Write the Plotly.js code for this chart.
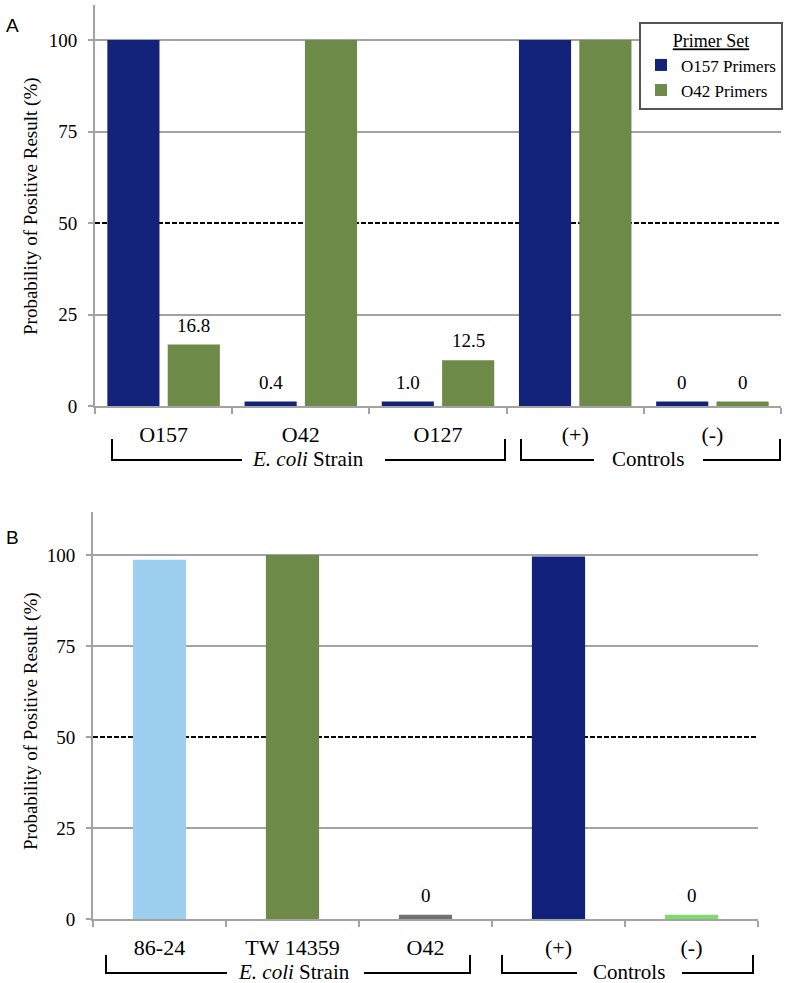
<!DOCTYPE html>
<html><head><meta charset="utf-8">
<script src="https://cdn.plot.ly/plotly-3.0.1.min.js"></script>
<style>html,body{margin:0;padding:0;background:#fff}</style>
</head><body><div id="chart" style="width:800px;height:983px"></div>
<script>
// ---- data ----
const strainsA = ['O157', 'O42', 'O127', '(+)', '(-)'];
const o157Primers = [100, 0.4, 1.0, 100, 0];
const o42Primers = [16.8, 100, 12.5, 100, 0];
const labelsO157 = ['', '0.4', '1.0', '', '0'];
const labelsO42 = ['16.8', '', '12.5', '', '0'];
const seriesNames = ['O157 Primers', 'O42 Primers'];
const strainsB = ['86-24', 'TW 14359', 'O42', '(+)', '(-)'];
const valuesB = [98.7, 100, 0, 99.6, 0];
const labelsB = ['', '', '0', '', '0'];
const yTicks = [0, 25, 50, 75, 100];
const groupNames = ['<i>E. coli</i> Strain', 'Controls'];
const yTitle = 'Probability of Positive Result (%)';

// ---- style ----
const W = 800, H = 983;
const px = x => x / W, py = y => 1 - y / H;
const NAVY = '#13237a', GREEN = '#6e8a48';
const colorsB = ['#9dcfee', '#6e8a48', '#707070', '#12217b', '#82d96c'];
const GRID = '#a3a3a3';
const SERIF = 'Liberation Serif, Times New Roman, serif';
const minVisible = 1.2;               // tiny stub so zero-height bars remain visible
const disp = v => Math.max(v, minVisible);
const BW = 0.38, OFF_A = [-0.41, 0.03], BW_B = 0.40;

const idxA = strainsA.map((_, i) => i);
const idxB = strainsB.map((_, i) => i);

const traces = [
  {type: 'bar', name: seriesNames[0], x: idxA, y: o157Primers.map(disp), width: BW, offset: OFF_A[0],
   marker: {color: NAVY, line: {width: 0}}, xaxis: 'x', yaxis: 'y', hoverinfo: 'skip'},
  {type: 'bar', name: seriesNames[1], x: idxA, y: o42Primers.map(disp), width: BW, offset: OFF_A[1],
   marker: {color: GREEN, line: {width: 0}}, xaxis: 'x', yaxis: 'y', hoverinfo: 'skip'},
  {type: 'bar', name: 'B', showlegend: false, x: idxB, y: valuesB.map(disp), width: BW_B,
   marker: {color: colorsB, line: {width: 0}}, xaxis: 'x2', yaxis: 'y2', hoverinfo: 'skip'}
];

const annotations = [];
function txt(x, y, text, size, extra) {
  return Object.assign({xref: 'paper', yref: 'paper', x: px(x), y: py(y), text: text, showarrow: false,
    xanchor: 'center', yanchor: 'middle', font: {family: SERIF, size: size, color: '#000'}}, extra || {});
}
function valueLabels(labels, vals, xoff, width, xr, yr) {
  labels.forEach((t, i) => {
    if (!t) return;
    annotations.push({xref: xr, yref: yr, x: i + xoff + width / 2, y: disp(vals[i]), text: t,
      showarrow: false, xanchor: 'center', yanchor: 'bottom', yshift: 7,
      font: {family: SERIF, size: 19, color: '#000'}});
  });
}
valueLabels(labelsO157, o157Primers, OFF_A[0], BW, 'x', 'y');
valueLabels(labelsO42, o42Primers, OFF_A[1], BW, 'x', 'y');
valueLabels(labelsB, valuesB, -BW_B / 2, BW_B, 'x2', 'y2');

// axis titles
annotations.push(txt(31, 206, yTitle, 19, {textangle: -90}));
annotations.push(txt(31, 721, yTitle, 19, {textangle: -90}));
// panel letters
const SANS = {family: 'Liberation Sans, Arial, sans-serif', size: 19, color: '#000'};
annotations.push(txt(12, 25, 'A', 19, {font: SANS}));
annotations.push(txt(12, 537, 'B', 19, {font: SANS}));

// group brackets (decorations, pixel layout)
const shapes = [];
function bracket(x1, x2, gap1, gap2, yTop, yBot, label, textX) {
  const path = `M${px(x1)},${py(yTop)} L${px(x1)},${py(yBot)} L${px(gap1)},${py(yBot)} ` +
               `M${px(gap2)},${py(yBot)} L${px(x2)},${py(yBot)} L${px(x2)},${py(yTop)}`;
  shapes.push({type: 'path', xref: 'paper', yref: 'paper', path: path, line: {color: '#000', width: 2}});
  annotations.push(txt(textX, yBot - 1, label, 21));
}
bracket(112, 505, 242, 385, 439, 460, groupNames[0], 308);
bracket(521, 780, 594, 703, 439, 460, groupNames[1], 648);
bracket(106, 470, 227, 364, 955, 973, groupNames[0], 294);
bracket(502, 753, 577, 682, 955, 973, groupNames[1], 629);

// 50% threshold lines
[['x', 'y'], ['x2', 'y2']].forEach(([xr, yr]) => {
  shapes.push({type: 'line', xref: xr, yref: yr, x0: -0.5, x1: 4.5, y0: 50, y1: 50, layer: 'between',
    line: {color: '#fff', width: 3}});
  shapes.push({type: 'line', xref: xr, yref: yr, x0: -0.5, x1: 4.5, y0: 50, y1: 50, layer: 'between',
    line: {color: '#000', width: 2, dash: '5px,2px'}});
});

function xAxis(domain, labels, anchor, standoff) {
  return {domain: domain, anchor: anchor, range: [-0.5, 4.5], tickmode: 'array',
    tickvals: labels.map((_, i) => i), ticktext: labels, ticks: '', showline: true, linecolor: GRID,
    linewidth: 2, showgrid: false, zeroline: false, fixedrange: true, ticklabelstandoff: standoff,
    tickfont: {family: SERIF, size: 22, color: '#000'},
    minor: {tickmode: 'array', tickvals: [-0.5, 0.5, 1.5, 2.5, 3.5, 4.5], ticks: 'outside', ticklen: 6,
      tickwidth: 2, tickcolor: GRID, showgrid: false}};
}
function yAxis(domain, range, anchor) {
  return {domain: domain, anchor: anchor, range: range, tickmode: 'array', tickvals: yTicks,
    ticks: 'outside', ticklen: 5, tickwidth: 2, tickcolor: GRID, showline: true, linecolor: GRID,
    linewidth: 2, showgrid: true, gridcolor: GRID, gridwidth: 2, zeroline: false, fixedrange: true,
    ticklabelstandoff: 7, tickfont: {family: SERIF, size: 19, color: '#000'}};
}

const layout = {
  width: W, height: H, margin: {l: 0, r: 0, t: 0, b: 0}, paper_bgcolor: '#fff', plot_bgcolor: '#fff',
  barmode: 'overlay', showlegend: true,
  xaxis: xAxis([px(95), px(781)], strainsA, 'y', 8),
  yaxis: yAxis([py(406), py(5)], [0, 109.6], 'x'),
  xaxis2: xAxis([px(93), px(758)], strainsB, 'y2', 8),
  yaxis2: yAxis([py(919), py(512)], [0, 111.8], 'x2'),
  legend: {x: px(639), y: py(22), xanchor: 'left', yanchor: 'top', bgcolor: '#fff', bordercolor: '#555',
    borderwidth: 2, font: {family: SERIF, size: 17, color: '#000'},
    title: {text: '<u>Primer Set</u>', side: 'top center', font: {family: SERIF, size: 18, color: '#000'}}},
  shapes: shapes, annotations: annotations
};

Plotly.newPlot('chart', traces, layout, {displayModeBar: false, staticPlot: true});
</script></body></html>
